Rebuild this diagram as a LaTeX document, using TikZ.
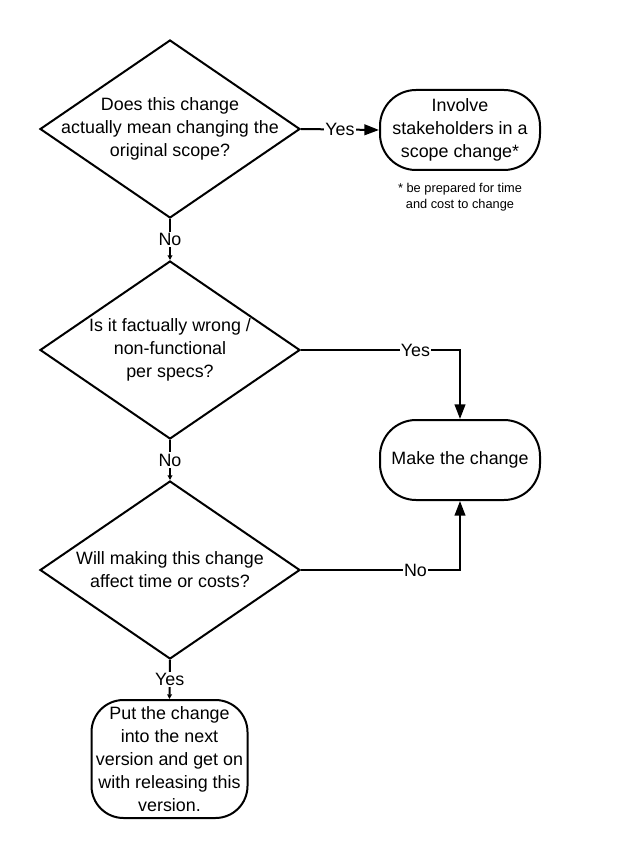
\documentclass[tikz,border=0pt]{standalone}
\usepackage{fontspec}
\setmainfont{Liberation Sans}
\usetikzlibrary{shapes.geometric,arrows.meta}
\begin{document}
\begin{tikzpicture}[x=0.75pt,y=-0.75pt,
  dia/.style={draw,line width=1.5pt,diamond,minimum width=195pt,minimum height=133.5pt,inner sep=0pt},
  txt/.style={align=center,font=\fontsize{13.4}{17.25}\selectfont,inner sep=0pt},
  term/.style={draw,line width=1.5pt,rectangle,rounded corners=27pt,minimum width=120pt,minimum height=60pt,align=center,font=\fontsize{13.4}{17.25}\selectfont,inner sep=0pt},
  lbl/.style={fill=white,font=\fontsize{13.4}{16}\selectfont,inner sep=1pt},
  conn/.style={line width=1.5pt},
  bigarrow/.style={conn,-{Triangle[length=11pt,width=8pt]}},
  smallarrow/.style={conn,-{Triangle[length=3.5pt,width=3.5pt]}}
]
\useasboundingbox (0,0) rectangle (620,859);
\node[dia] (d1) at (170,129) {};
\node[txt] (t1) at (d1.center) {Does this change\\actually mean changing the\\original scope?};
\node[dia] (d2) at (170,350) {};
\node[txt] (t2) at (d2.center) {Is it factually wrong /\\non-functional\\per specs?};
\node[dia] (d3) at (170,570) {};
\node[txt] (t3) at (d3.center) {Will making this change\\affect time or costs?};
\node[term] (b1) at (460,130) {Involve\\stakeholders in a\\scope change*};
\node[align=center,font=\fontsize{9.6}{12}\selectfont,inner sep=0pt] (fn) at (460,197) {* be prepared for time\\and cost to change};
\node[term] (b2) at (460,460) {Make the change};
\node[term,rounded corners=24pt,minimum width=117pt,minimum height=88.5pt] (b3) at (169.5,759) {Put the change\\into the next\\version and get on\\with releasing this\\version.};
\draw[bigarrow] (d1.east) -- node[lbl]{Yes} (b1.west);
\draw[bigarrow] (d2.east) -- node[lbl,pos=0.72]{Yes} (d2.east -| b2.north) -- (b2.north);
\draw[bigarrow] (d3.east) -- node[lbl,pos=0.72]{No} (d3.east -| b2.south) -- (b2.south);
\draw[smallarrow] (d1.south) -- node[lbl]{No} (d2.north);
\draw[smallarrow] (d2.south) -- node[lbl]{No} (d3.north);
\draw[smallarrow] (d3.south) -- node[lbl]{Yes} (b3.north);
\end{tikzpicture}
\end{document}
